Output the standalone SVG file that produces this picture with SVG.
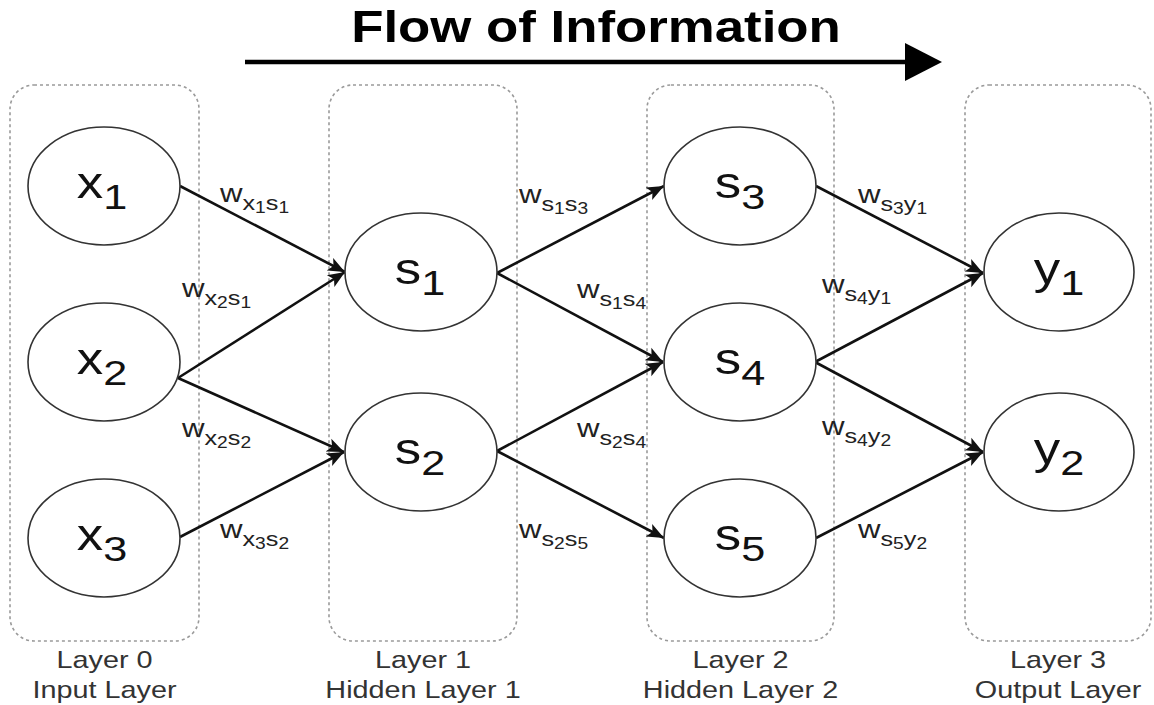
<svg xmlns="http://www.w3.org/2000/svg" width="1154" height="705" viewBox="0 0 1154 705">
<style>
.layer{fill:none;stroke:#9a9a9a;stroke-width:1.6;stroke-dasharray:3 3}
.node{fill:#fff;stroke:#333;stroke-width:1.6}
.edge{fill:none;stroke:#111;stroke-width:2.6;marker-end:url(#ah)}
.nt{font-family:"Liberation Sans",Arial,sans-serif;font-size:44px;fill:#111;text-anchor:middle}
.nd{font-size:36px}
.el{font-family:"Liberation Sans",Arial,sans-serif;font-size:26px;fill:#222}
.sb{font-size:21px}
.ss{font-size:16px}
.ll{font-family:"Liberation Sans",Arial,sans-serif;font-size:24px;fill:#333;text-anchor:middle}
.title{font-family:"Liberation Sans",Arial,sans-serif;font-size:44px;font-weight:bold;fill:#000;text-anchor:middle}
</style>
<defs>
<marker id="ah" markerWidth="18" markerHeight="16" refX="17" refY="8" orient="auto" markerUnits="userSpaceOnUse">
<path d="M0,1 L17,8 L0,15 L4,8 z" fill="#111"/>
</marker>
</defs>
<rect width="1154" height="705" fill="#fff"/>

<g id="title">
<g transform="translate(596,42) scale(1.2,1)"><text class="title" x="0" y="0">Flow of Information</text></g>
<line x1="245" y1="62" x2="908" y2="62" stroke="#000" stroke-width="4.5"/>
<path d="M905,43 L942,62 L905,81 z" fill="#000"/>
</g>

<g id="layers">
<g id="layer0"><rect class="layer" x="10" y="85" width="189" height="556" rx="24"/>
<g transform="translate(104.5,668) scale(1.2,1)"><text class="ll" x="0" y="0">Layer 0</text><text class="ll" x="0" y="30">Input Layer</text></g></g>
<g id="layer1"><rect class="layer" x="329" y="85" width="188" height="556" rx="24"/>
<g transform="translate(423,668) scale(1.2,1)"><text class="ll" x="0" y="0">Layer 1</text><text class="ll" x="0" y="30">Hidden Layer 1</text></g></g>
<g id="layer2"><rect class="layer" x="647" y="85" width="187" height="556" rx="24"/>
<g transform="translate(740.5,668) scale(1.2,1)"><text class="ll" x="0" y="0">Layer 2</text><text class="ll" x="0" y="30">Hidden Layer 2</text></g></g>
<g id="layer3"><rect class="layer" x="965" y="85" width="186" height="556" rx="24"/>
<g transform="translate(1058,668) scale(1.2,1)"><text class="ll" x="0" y="0">Layer 3</text><text class="ll" x="0" y="30">Output Layer</text></g></g>
</g>

<g id="connectors">
<path class="edge" d="M180,186 L345,272"/>
<path class="edge" d="M178,378 L345,272"/>
<path class="edge" d="M178,378 L344,452"/>
<path class="edge" d="M180,537 L344,452"/>
<path class="edge" d="M497,273 L664,186"/>
<path class="edge" d="M497,273 L663,362"/>
<path class="edge" d="M497,451 L663,362"/>
<path class="edge" d="M497,451 L664,538"/>
<path class="edge" d="M816,186 L983,273"/>
<path class="edge" d="M815,362 L983,273"/>
<path class="edge" d="M815,362 L983,452"/>
<path class="edge" d="M816,538 L983,452"/>
</g>

<g id="edge-labels">
<g transform="translate(220,202) scale(1.2,1)"><text class="el">w<tspan class="sb" dy="8">x</tspan><tspan class="ss" dy="3">1</tspan><tspan class="sb" dy="-3">s</tspan><tspan class="ss" dy="3">1</tspan></text></g>
<g transform="translate(182,297) scale(1.2,1)"><text class="el">w<tspan class="sb" dy="8">x</tspan><tspan class="ss" dy="3">2</tspan><tspan class="sb" dy="-3">s</tspan><tspan class="ss" dy="3">1</tspan></text></g>
<g transform="translate(182,437) scale(1.2,1)"><text class="el">w<tspan class="sb" dy="8">x</tspan><tspan class="ss" dy="3">2</tspan><tspan class="sb" dy="-3">s</tspan><tspan class="ss" dy="3">2</tspan></text></g>
<g transform="translate(220,538) scale(1.2,1)"><text class="el">w<tspan class="sb" dy="8">x</tspan><tspan class="ss" dy="3">3</tspan><tspan class="sb" dy="-3">s</tspan><tspan class="ss" dy="3">2</tspan></text></g>
<g transform="translate(519,203) scale(1.2,1)"><text class="el">w<tspan class="sb" dy="8">s</tspan><tspan class="ss" dy="3">1</tspan><tspan class="sb" dy="-3">s</tspan><tspan class="ss" dy="3">3</tspan></text></g>
<g transform="translate(577,298) scale(1.2,1)"><text class="el">w<tspan class="sb" dy="8">s</tspan><tspan class="ss" dy="3">1</tspan><tspan class="sb" dy="-3">s</tspan><tspan class="ss" dy="3">4</tspan></text></g>
<g transform="translate(577,437) scale(1.2,1)"><text class="el">w<tspan class="sb" dy="8">s</tspan><tspan class="ss" dy="3">2</tspan><tspan class="sb" dy="-3">s</tspan><tspan class="ss" dy="3">4</tspan></text></g>
<g transform="translate(519,538) scale(1.2,1)"><text class="el">w<tspan class="sb" dy="8">s</tspan><tspan class="ss" dy="3">2</tspan><tspan class="sb" dy="-3">s</tspan><tspan class="ss" dy="3">5</tspan></text></g>
<g transform="translate(858,203) scale(1.2,1)"><text class="el">w<tspan class="sb" dy="8">s</tspan><tspan class="ss" dy="3">3</tspan><tspan class="sb" dy="-3">y</tspan><tspan class="ss" dy="3">1</tspan></text></g>
<g transform="translate(822,293) scale(1.2,1)"><text class="el">w<tspan class="sb" dy="8">s</tspan><tspan class="ss" dy="3">4</tspan><tspan class="sb" dy="-3">y</tspan><tspan class="ss" dy="3">1</tspan></text></g>
<g transform="translate(822,435) scale(1.2,1)"><text class="el">w<tspan class="sb" dy="8">s</tspan><tspan class="ss" dy="3">4</tspan><tspan class="sb" dy="-3">y</tspan><tspan class="ss" dy="3">2</tspan></text></g>
<g transform="translate(858,538) scale(1.2,1)"><text class="el">w<tspan class="sb" dy="8">s</tspan><tspan class="ss" dy="3">5</tspan><tspan class="sb" dy="-3">y</tspan><tspan class="ss" dy="3">2</tspan></text></g>
</g>

<g id="node-x1"><ellipse class="node" cx="104" cy="186" rx="76" ry="59"/><g transform="translate(102,198) scale(1.2,1)"><text class="nt">x<tspan class="nd" dy="11">1</tspan></text></g></g>
<g id="node-x2"><ellipse class="node" cx="104" cy="362" rx="76" ry="59"/><g transform="translate(102,374) scale(1.2,1)"><text class="nt">x<tspan class="nd" dy="11">2</tspan></text></g></g>
<g id="node-x3"><ellipse class="node" cx="104" cy="538" rx="76" ry="59"/><g transform="translate(102,550) scale(1.2,1)"><text class="nt">x<tspan class="nd" dy="11">3</tspan></text></g></g>
<g id="node-s1"><ellipse class="node" cx="421" cy="272" rx="76" ry="59"/><g transform="translate(420,284) scale(1.2,1)"><text class="nt">s<tspan class="nd" dy="11">1</tspan></text></g></g>
<g id="node-s2"><ellipse class="node" cx="421" cy="452" rx="76" ry="59"/><g transform="translate(420,464) scale(1.2,1)"><text class="nt">s<tspan class="nd" dy="11">2</tspan></text></g></g>
<g id="node-s3"><ellipse class="node" cx="740" cy="186" rx="76" ry="59"/><g transform="translate(740,198) scale(1.2,1)"><text class="nt">s<tspan class="nd" dy="11">3</tspan></text></g></g>
<g id="node-s4"><ellipse class="node" cx="740" cy="362" rx="76" ry="59"/><g transform="translate(740,374) scale(1.2,1)"><text class="nt">s<tspan class="nd" dy="11">4</tspan></text></g></g>
<g id="node-s5"><ellipse class="node" cx="740" cy="538" rx="76" ry="59"/><g transform="translate(740,550) scale(1.2,1)"><text class="nt">s<tspan class="nd" dy="11">5</tspan></text></g></g>
<g id="node-y1"><ellipse class="node" cx="1059" cy="272" rx="75" ry="59"/><g transform="translate(1059,284) scale(1.2,1)"><text class="nt">y<tspan class="nd" dy="11">1</tspan></text></g></g>
<g id="node-y2"><ellipse class="node" cx="1059" cy="452" rx="75" ry="59"/><g transform="translate(1059,464) scale(1.2,1)"><text class="nt">y<tspan class="nd" dy="11">2</tspan></text></g></g>
</svg>
